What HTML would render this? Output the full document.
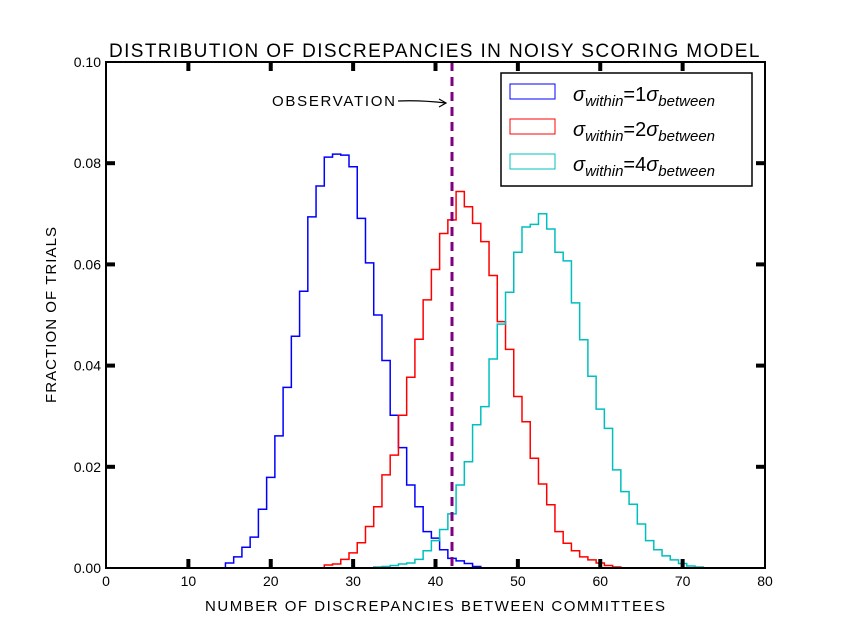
<!DOCTYPE html>
<html><head><meta charset="utf-8"><style>
body{margin:0;background:#fff;width:848px;height:632px;overflow:hidden}
svg text{font-family:"Liberation Sans",sans-serif}
</style></head><body>
<svg id="chart" width="848" height="632" xmlns="http://www.w3.org/2000/svg">
<text x="435" y="57" text-anchor="middle" font-size="19" letter-spacing="1.6" textLength="652" lengthAdjust="spacing">DISTRIBUTION OF DISCREPANCIES IN NOISY SCORING MODEL</text>
<text x="435" y="611" text-anchor="middle" font-size="15" textLength="460" lengthAdjust="spacing">NUMBER OF DISCREPANCIES BETWEEN COMMITTEES</text>
<text transform="translate(56,315) rotate(-90)" text-anchor="middle" font-size="15" textLength="176" lengthAdjust="spacing">FRACTION OF TRIALS</text>
<g id="series"></g>
<line x1="452" y1="62" x2="452" y2="568" stroke="#800080" stroke-width="3" stroke-dasharray="9,6"/>
<text x="272" y="106" font-size="15" textLength="123" lengthAdjust="spacing">OBSERVATION</text>
<path d="M398 101 Q420 100 446 103 M439 99 L446 103 L439 107" fill="none" stroke="#000" stroke-width="1.2"/>
<rect x="106" y="62" width="659" height="506" fill="none" stroke="#000" stroke-width="2"/>
<g id="ticks"></g>
<g>
<rect x="501" y="73" width="251" height="113" fill="#fff" stroke="#000" stroke-width="1.5"/>
<rect x="510" y="84" width="45" height="15" fill="none" stroke="#0000ff"/>
<rect x="510" y="119" width="45" height="15" fill="none" stroke="#ff0000"/>
<rect x="510" y="154" width="45" height="15" fill="none" stroke="#00bfbf"/>
<text x="573" y="101" font-family="DejaVu Serif,serif" font-size="20" font-style="italic">σ<tspan font-size="15" dy="5">within</tspan><tspan font-style="normal" dy="-5">=1</tspan>σ<tspan font-size="15" dy="5">between</tspan></text>
<text x="573" y="136" font-family="DejaVu Serif,serif" font-size="20" font-style="italic">σ<tspan font-size="15" dy="5">within</tspan><tspan font-style="normal" dy="-5">=2</tspan>σ<tspan font-size="15" dy="5">between</tspan></text>
<text x="573" y="171" font-family="DejaVu Serif,serif" font-size="20" font-style="italic">σ<tspan font-size="15" dy="5">within</tspan><tspan font-style="normal" dy="-5">=4</tspan>σ<tspan font-size="15" dy="5">between</tspan></text>
</g>
</svg>
<script>
const blueStart = 15;
const blueValues = [0.001,0.0022,0.0041,0.0061,0.0116,0.0179,0.0261,0.0357,0.0458,0.0547,0.0694,0.0755,0.0812,0.0818,0.0816,0.0793,0.0691,0.0603,0.05,0.041,0.0302,0.0238,0.0164,0.0121,0.0072,0.0059,0.0036,0.0019,0.0014,0.0009,0.0003];
const redStart = 27;
const redValues = [0.0006,0.0008,0.0017,0.003,0.005,0.0082,0.0121,0.0184,0.0223,0.0302,0.0377,0.0452,0.053,0.059,0.0661,0.0688,0.0744,0.0714,0.0681,0.0645,0.0578,0.0487,0.0432,0.0339,0.0289,0.0217,0.0166,0.0125,0.0072,0.0049,0.0034,0.0022,0.0016,0.001,0.0005,0.0002];
const cyanStart = 33;
const cyanValues = [0.0002,0.0003,0.0005,0.0008,0.001,0.0017,0.0034,0.0054,0.0076,0.0107,0.0164,0.021,0.0283,0.0319,0.0413,0.0482,0.0545,0.0624,0.0674,0.0679,0.07,0.067,0.0624,0.0607,0.0524,0.0451,0.0379,0.0314,0.0276,0.0194,0.0151,0.0126,0.0087,0.0054,0.0036,0.0024,0.0016,0.0009,0.0004,0.0002];
const xTicks = [0,10,20,30,40,50,60,70,80];
const yTicks = [0,0.02,0.04,0.06,0.08,0.10];
const yTickLabels = ["0.00","0.02","0.04","0.06","0.08","0.10"];

const NS = "http://www.w3.org/2000/svg";
const X = v => 106 + v * (659 / 80);
const Y = v => 568 - v * (506 / 0.1);
const g = document.getElementById('series');
function step(start, vals, color, name) {
  let d = `M${X(start-0.5)} ${Y(0)}`;
  vals.forEach((v,i)=>{ const c=start+i; d+=` L${X(c-0.5)} ${Y(v)} L${X(c+0.5)} ${Y(v)}`; });
  d += ` L${X(start+vals.length-0.5)} ${Y(0)}`;
  const p = document.createElementNS(NS,'path');
  p.setAttribute('d', d); p.setAttribute('fill','none'); p.setAttribute('stroke',color); p.setAttribute('stroke-width','1.5');
  
  
  g.appendChild(p);
}
step(blueStart, blueValues, '#0000ff', 'histogram-sigma-1');
step(redStart, redValues, '#ff0000', 'histogram-sigma-2');
step(cyanStart, cyanValues, '#00bfbf', 'histogram-sigma-4');

const t = document.getElementById('ticks');
function mk(tag, attrs){ const e=document.createElementNS(NS,tag); for(const k in attrs) e.setAttribute(k,attrs[k]); t.appendChild(e); return e; }
xTicks.forEach(v=>{
  const x=X(v);
  if(v>0&&v<80){
    const a=mk('rect',{x:x-2,y:568-9,width:4,height:8,fill:'#000'});
    
    
    const b=mk('rect',{x:x-2,y:63,width:4,height:8,fill:'#000'});
    
    
  }
  const l=mk('text',{x:x,y:586,'text-anchor':'middle','font-size':'14'});
  l.textContent=String(v);
  
  
});
yTicks.forEach((v,i)=>{
  const y=Y(v);
  if(i>0&&i<yTicks.length-1){
    const a=mk('rect',{x:107,y:y-2,width:8,height:4,fill:'#000'});
    
    
    const b=mk('rect',{x:756,y:y-2,width:8,height:4,fill:'#000'});
    
    
  }
  const l=mk('text',{x:101,y:y+5,'text-anchor':'end','font-size':'14'});
  l.textContent=yTickLabels[i];
  
  
});
</script>
</body></html>
